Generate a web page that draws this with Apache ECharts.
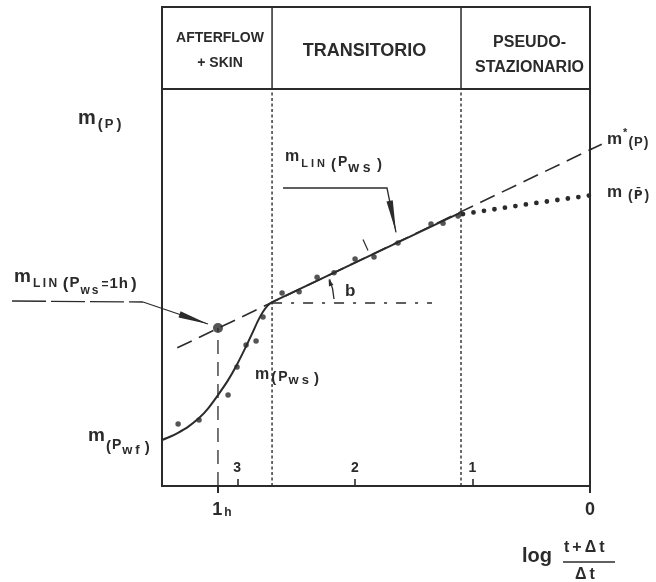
<!DOCTYPE html>
<html>
<head>
<meta charset="utf-8">
<script src="https://cdn.jsdelivr.net/npm/echarts@6/dist/echarts.min.js"></script>
<style>
  html, body { margin: 0; padding: 0; background: #ffffff; }
  #chart { width: 656px; height: 582px; }
</style>
</head>
<body>
<div id="chart"></div>
<script>
// Horner-type build-up plot: x = log((t+Δt)/Δt) in log cycles (0 at the right),
// y = pseudo-pressure m(p) in arbitrary units.
const cycleTicks = [1, 2, 3];
const endTicks = [0, 3.164];
const endTickLabels = ['0', '1h'];
const phaseNames = ['AFTERFLOW\n+ SKIN', 'TRANSITORIO', 'PSEUDO-\nSTAZIONARIO'];
const phaseBounds = [3.64, 2.704, 1.097, 0];

// afterflow + skin portion of the build-up curve
const afterflowX = [3.640, 3.572, 3.504, 3.419, 3.325, 3.249, 3.164, 3.079, 3.002, 2.926, 2.875, 2.824, 2.781, 2.739, 2.704];
const afterflowM = [11.6, 12.4, 13.4, 14.9, 17.1, 19.5, 22.9, 26.6, 30.6, 35.1, 38.3, 41.6, 43.9, 45.5, 46.3];
// semilog straight line (transient period)
const semilogX = [2.704, 1.092];
const semilogM = [46.3, 69.0];
// extrapolated straight line m*(p)
const extrapX = [3.51, -0.10];
const extrapM = [34.8, 86.1];
// average reservoir pressure trend m(p̄)
const averageX = [1.08, 0.55, 0];
const averageM = [68.5, 70.9, 73.2];
// measured build-up points
const measuredX = [3.503, 3.325, 3.078, 3.002, 2.925, 2.840, 2.781, 2.619, 2.474, 2.321, 2.177, 1.998, 1.837, 1.633, 1.352, 1.250, 1.122];
const measuredM = [15.6, 16.6, 22.9, 30.0, 35.5, 36.5, 42.6, 48.6, 48.9, 52.6, 53.7, 57.2, 57.7, 61.2, 66.0, 66.2, 68.0];
// straight line read at Δt = 1 h
const hourX = 3.164;
const hourM = 39.8;
// horizontal reference for the slope b
const slopeRefM = 46.1;
const slopeRefEndX = 1.344;

const INK = '#2b2b2b';
const FONT = '"Liberation Sans", Arial, Helvetica, sans-serif';
const zip = (xs, ys) => xs.map((x, i) => [x, ys[i]]);

const chart = echarts.init(document.getElementById('chart'), null, { renderer: 'canvas' });

const base = { type: 'line', symbol: 'none', silent: true, animation: false, xAxisIndex: 0, yAxisIndex: 0 };
const xCommon = { type: 'value', min: 0, max: 3.64, inverse: true, splitLine: { show: false } };

const series = [];
// phase boundaries in the plot area (dotted)
phaseBounds.slice(1, 3).forEach(b => series.push(Object.assign({}, base, {
  data: [[b, 0], [b, 100]], lineStyle: { color: INK, width: 1.4, type: [3, 2.5] }
})));
// same boundaries inside the header band (solid)
phaseBounds.slice(1, 3).forEach(b => series.push(Object.assign({}, base, {
  xAxisIndex: 2, yAxisIndex: 1,
  data: [[b, 0], [b, 1]], lineStyle: { color: INK, width: 1.5 }
})));
const HEADER_SERIES = series.length - 1;
series.push(Object.assign({}, base, {
  data: [[hourX, 0], [hourX, hourM]], lineStyle: { color: INK, width: 1.3, type: [14, 8] }
}));
series.push(Object.assign({}, base, {
  data: [[phaseBounds[1], slopeRefM], [slopeRefEndX, slopeRefM]],
  lineStyle: { color: INK, width: 1.3, type: [10, 9, 3, 9] }
}));
series.push(Object.assign({}, base, {
  clip: false, data: zip(extrapX, extrapM), lineStyle: { color: INK, width: 1.6, type: [16, 8] }
}));
series.push(Object.assign({}, base, {
  clip: false, data: zip(averageX, averageM), lineStyle: { color: INK, width: 4.8, type: [0, 10.6], cap: 'round' }
}));
series.push(Object.assign({}, base, {
  smooth: 0.25, data: zip(afterflowX, afterflowM), lineStyle: { color: INK, width: 2 }
}));
series.push(Object.assign({}, base, {
  data: zip(semilogX, semilogM), lineStyle: { color: INK, width: 2 }
}));
const POINT_SERIES = series.length;
series.push({
  type: 'scatter', silent: true, animation: false, xAxisIndex: 0, yAxisIndex: 0,
  data: zip(measuredX, measuredM), symbolSize: 5.5, itemStyle: { color: INK }
});
series.push({
  type: 'scatter', silent: true, animation: false, xAxisIndex: 0, yAxisIndex: 0,
  data: [[hourX, hourM]], symbolSize: 10, itemStyle: { color: INK }
});

chart.setOption({
  backgroundColor: '#ffffff',
  animation: false,
  grid: [
    { left: 162, right: 66, top: 89, bottom: 96, show: true, borderColor: INK, borderWidth: 2 },
    { left: 162, right: 66, top: 7, height: 82, show: true, borderColor: INK, borderWidth: 2 }
  ],
  xAxis: [
    Object.assign({}, xCommon, {
      gridIndex: 0, position: 'bottom',
      axisLine: { show: true, lineStyle: { color: INK, width: 2 } },
      axisTick: { show: true, inside: true, length: 7, customValues: cycleTicks, lineStyle: { color: INK, width: 1.6 } },
      axisLabel: { show: true, inside: true, margin: 11, customValues: cycleTicks,
        color: INK, fontFamily: FONT, fontSize: 14, fontWeight: 'bold' }
    }),
    Object.assign({}, xCommon, {
      gridIndex: 0, position: 'bottom',
      axisLine: { show: false },
      axisTick: { show: true, length: 7, customValues: endTicks, lineStyle: { color: INK, width: 2 } },
      axisLabel: {
        show: true, margin: 13, customValues: endTicks,
        formatter: v => {
          const s = endTickLabels[endTicks.indexOf(v)] || '';
          return s.endsWith('h') ? '{p|}{n|' + s.slice(0, -1) + '}{h|h}' : '{n|' + s + '}';
        },
        rich: {
          p: { width: 8 },
          n: { color: INK, fontFamily: FONT, fontSize: 18, fontWeight: 'bold', lineHeight: 20, verticalAlign: 'bottom' },
          h: { color: INK, fontFamily: FONT, fontSize: 12, fontWeight: 'bold', lineHeight: 20, verticalAlign: 'bottom', padding: [0, 0, 0, 2] }
        }
      }
    }),
    Object.assign({}, xCommon, {
      gridIndex: 1, axisLine: { show: false }, axisTick: { show: false }, axisLabel: { show: false }
    })
  ],
  yAxis: [
    { type: 'value', gridIndex: 0, min: 0, max: 100, axisLine: { show: true, lineStyle: { color: INK, width: 2 } },
      axisTick: { show: false }, axisLabel: { show: false }, splitLine: { show: false } },
    { type: 'value', gridIndex: 1, min: 0, max: 1, axisLine: { show: false },
      axisTick: { show: false }, axisLabel: { show: false }, splitLine: { show: false } }
  ],
  series: series
});

// ---- annotations ----
const measureCtx = document.createElement('canvas').getContext('2d');
function fontStr(size, weight, family) { return weight + ' ' + size + 'px ' + (family || FONT); }
// run of text pieces laid out left to right; y is the baseline
// piece: [text, size, baselineShift, gapBefore, letterSpacing, family]
function textRun(x, y, parts) {
  const out = [];
  let cx = x;
  parts.forEach(p => {
    const t = p[0], size = p[1], dy = p[2] || 0, gap = p[3] || 0, ls = p[4] || 0;
    cx += gap;
    const f = fontStr(size, 'bold', p[5]);
    measureCtx.font = f;
    const chars = ls ? Array.from(t) : [t];
    chars.forEach(ch => {
      out.push({
        type: 'text', x: cx, y: y + dy - 0.35 * size, silent: true,
        style: { text: ch, font: f, fill: INK, align: 'left', verticalAlign: 'middle', textAlign: 'left', textVerticalAlign: 'middle' }
      });
      cx += measureCtx.measureText(ch).width + ls;
    });
  });
  return out;
}
function centerText(x, y, text, size, lineHeight) {
  return {
    type: 'text', x: x, y: y, silent: true,
    style: { text: text, font: fontStr(size, 'bold'), lineHeight: lineHeight, fill: INK,
      align: 'center', verticalAlign: 'middle', textAlign: 'center', textVerticalAlign: 'middle' }
  };
}
function line(points, width, dash) {
  return { type: 'polyline', silent: true, shape: { points: points },
    style: { stroke: INK, lineWidth: width || 1.3, lineDash: dash || null, fill: null } };
}
function arrowHead(tip, from, len, half) {
  const dx = tip[0] - from[0], dy = tip[1] - from[1];
  const d = Math.hypot(dx, dy), ux = dx / d, uy = dy / d;
  const bx = tip[0] - ux * len, by = tip[1] - uy * len;
  return { type: 'polygon', silent: true, shape: { points: [tip, [bx - uy * half, by + ux * half], [bx + uy * half, by - ux * half]] },
    style: { fill: INK } };
}

const px = (x, m) => chart.convertToPixel({ seriesIndex: POINT_SERIES }, [x, m]);
const hx = (x, v) => chart.convertToPixel({ seriesIndex: HEADER_SERIES }, [x, v]);
const onSemilog = x => semilogM[0] + (semilogM[1] - semilogM[0]) * (x - semilogX[0]) / (semilogX[1] - semilogX[0]);

let g = [];

// header band titles
const hMid = hx(0, 0.5)[1];
const hc = i => (hx(phaseBounds[i], 0)[0] + hx(phaseBounds[i + 1], 0)[0]) / 2;
g.push(centerText(hc(0) + 3, hMid + 3, phaseNames[0], 14, 25));
g.push(centerText(hc(1) - 2, hMid + 3, phaseNames[1], 18, 25));
g.push(centerText(hc(2) + 4, hMid + 7, phaseNames[2], 16, 25));

// overhang of the extrapolated line past the right frame
const e0 = px(extrapX[1], extrapM[1]);
const eIn = px(0, extrapM[0] + (extrapM[1] - extrapM[0]) * (0 - extrapX[0]) / (extrapX[1] - extrapX[0]));
g.push(line([eIn, e0], 1.6));

// pointer to the 1 h value on the straight line
const hp = px(hourX, hourM);
const tip1 = [hp[0] - 10, hp[1] - 4];
g.push(line([[12, 301], [143, 302]], 1.3, [34, 5]));
g.push(line([[143, 302], tip1], 1.3));
g.push(arrowHead(tip1, [143, 302], 30, 3.2));

// pointer to the semilog straight line
const sx = 1.65;
const sp = px(sx, onSemilog(sx));
const tip2 = [sp[0], sp[1] - 11];
g.push(line([[283, 188], [387, 188], tip2], 1.3));
g.push(arrowHead(tip2, [387, 188], 32, 3.2));

// short mark above the straight line
const mk = px(1.905, onSemilog(1.905));
g.push(line([[mk[0] - 3, mk[1] - 18], [mk[0] + 2, mk[1] - 7]], 1.2));

// slope angle b
const c0 = px(phaseBounds[1], onSemilog(phaseBounds[1]));
const r = 62, a0 = -0.38;
g.push({ type: 'arc', silent: true, shape: { cx: c0[0], cy: c0[1], r: r, startAngle: a0, endAngle: -0.05, clockwise: true },
  style: { stroke: INK, lineWidth: 1.3, fill: null } });
const aTip = [c0[0] + r * Math.cos(a0) - 1, c0[1] + r * Math.sin(a0)];
g.push(arrowHead(aTip, [aTip[0] + 0.37 * 6, aTip[1] + 0.93 * 6], 7, 2.4));

// curve and line labels
const DV = '"DejaVu Sans", sans-serif';
g = g.concat(
  textRun(78, 125, [['m', 20], ['(', 15, 5, 2], ['P', 13, 4, 2], [')', 15, 5, 3]]),
  textRun(285, 162, [['m', 16], ['LIN', 11, 6, 2, 3], ['(', 15, 8, 3], ['P', 14, 5, 2], ['ws', 14, 11, 1, 3.5], [')', 15, 8, 3]]),
  textRun(14, 283, [['m', 19], ['LIN', 12, 5, 2, 2.5], ['(', 17, 7, 3], ['P', 15, 5, 1], ['ws', 12, 12, 1, 2], ['=', 12, 6, 1], ['1h', 15, 6, 1, 1], [')', 17, 7, 2]]),
  textRun(88, 442, [['m', 19], ['(', 15, 10, 1], ['P', 14, 8, 1], ['wf', 13, 13, 1, 3], [')', 15, 11, 2]]),
  textRun(255, 380, [['m', 16], ['(', 15, 3, 2], ['P', 14, 2, 2], ['ws', 13, 5, 1, 3], [')', 15, 4, 2]]),
  textRun(607, 145, [['m', 17], ['*', 11, -8, 1], ['(', 14, 3, 1], ['P', 13, 2, 1], [')', 14, 3, 1]]),
  textRun(607, 198, [['m', 17], ['(', 14, 3, 6], ['P\u0304', 12, 2, 1, 0, DV], [')', 14, 3, 2]]),
  textRun(345, 297, [['b', 17]]),
  textRun(522, 563, [['log', 20]]),
  textRun(564, 553, [['t+\u0394t', 16, 0, 0, 3]]),
  textRun(575, 580, [['\u0394t', 16, 0, 0, 3]])
);
g.push(line([[563, 562], [615, 562]], 1.6));

chart.setOption({ graphic: { elements: g } });
</script>
</body>
</html>
